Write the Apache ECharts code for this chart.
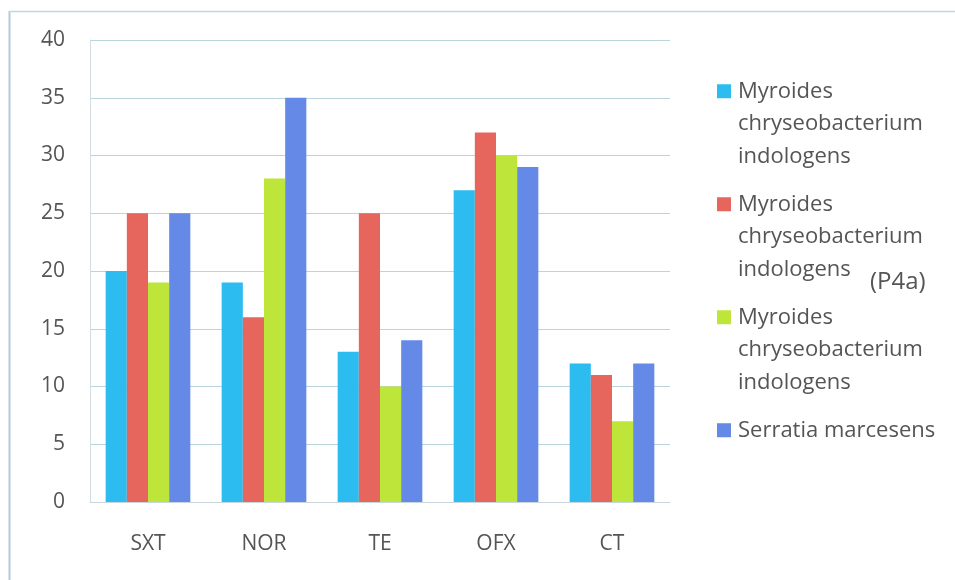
<!DOCTYPE html>
<html>
<head>
<meta charset="utf-8">
<script src="https://cdn.jsdelivr.net/npm/echarts@6/dist/echarts.min.js"></script>
<style>html,body{margin:0;padding:0;background:#fff;}#c{width:955px;height:580px;}</style>
</head>
<body>
<div id="c"></div>
<script>
var categories = ['SXT', 'NOR', 'TE', 'OFX', 'CT'];
var seriesKeys = ['s1', 's2', 's3', 's4'];
var legendLines = [
  ['Myroides', 'chryseobacterium', 'indologens'],
  ['Myroides', 'chryseobacterium', 'indologens'],
  ['Myroides', 'chryseobacterium', 'indologens'],
  ['Serratia marcesens']
];
var annotationText = '(P4a)';
var values1 = [20, 19, 13, 27, 12];
var values2 = [25, 16, 25, 32, 11];
var values3 = [19, 28, 10, 30, 7];
var values4 = [25, 35, 14, 29, 12];
var yTicks = { min: 0, max: 40, interval: 5 };
var colors = ['#2cbcf0', '#e6665d', '#bee53a', '#6489e6'];
var allValues = [values1, values2, values3, values4];

var FONT = 'Open Sans';
var textColor = '#555555';
var rich = {
  t: { fontFamily: FONT, fontSize: 22, color: textColor, lineHeight: 32.5, padding: [0, 0, 0, 7] },
  i: { fontFamily: FONT, fontSize: 22, color: textColor, lineHeight: 32.5, padding: [0, 0, 0, 21] }
};
colors.forEach(function (c, k) {
  rich['m' + k] = { width: 14, height: 14, backgroundColor: c, lineHeight: 32.5 };
});

var chart = echarts.init(document.getElementById('c'), null, { renderer: 'canvas' });
chart.setOption({
  backgroundColor: '#ffffff',
  animation: false,
  color: colors,
  grid: { left: 90, right: 285, top: 40, bottom: 78, containLabel: false },
  xAxis: {
    type: 'category',
    data: categories,
    axisLine: { show: true, lineStyle: { color: '#c9d6dc', width: 1 } },
    axisTick: { show: false },
    axisLabel: { color: textColor, fontFamily: FONT, fontSize: 21, margin: 32 }
  },
  yAxis: {
    type: 'value',
    min: yTicks.min, max: yTicks.max, interval: yTicks.interval,
    axisLine: { show: true, lineStyle: { color: '#d2dde2', width: 1 } },
    axisTick: { show: false },
    axisLabel: { color: textColor, fontFamily: FONT, fontSize: 21, margin: 25 },
    splitLine: { show: true, lineStyle: { color: '#bcd4df', width: 1 } }
  },
  legend: {
    orient: 'vertical',
    left: 707,
    top: 70,
    icon: 'none',
    itemWidth: 0,
    itemHeight: 14,
    itemGap: 15.5,
    data: seriesKeys,
    selectedMode: false,
    formatter: function (name) {
      var k = seriesKeys.indexOf(name);
      var lines = legendLines[k];
      var s = '{m' + k + '|}{t|' + lines[0] + '}';
      for (var j = 1; j < lines.length; j++) s += '\n{i|' + lines[j] + '}';
      return s;
    },
    textStyle: { fontFamily: FONT, fontSize: 22, color: textColor, lineHeight: 32.5, rich: rich }
  },
  graphic: [
    { type: 'line', shape: { x1: 9.5, y1: 11, x2: 9.5, y2: 580 }, style: { stroke: '#b4cbd6', lineWidth: 2 } },
    { type: 'line', shape: { x1: 9, y1: 11.5, x2: 955, y2: 11.5 }, style: { stroke: '#c4d6de', lineWidth: 1.5 } },
    { type: 'text', left: 870, top: 270, style: { text: annotationText, fontFamily: FONT, fontSize: 24, fill: textColor } }
  ],
  series: seriesKeys.map(function (key, k) {
    return {
      name: key,
      type: 'bar',
      data: allValues[k],
      barGap: '0%',
      barCategoryGap: '27%',
      itemStyle: { color: colors[k] }
    };
  })
});
</script>
</body>
</html>
